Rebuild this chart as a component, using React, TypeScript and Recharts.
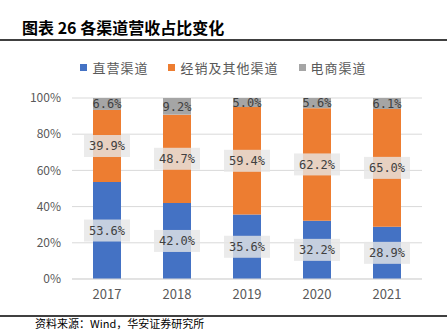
import React from 'react'
import { BarChart, Bar, XAxis, YAxis, CartesianGrid, LabelList } from 'recharts'

const years = ['2017', '2018', '2019', '2020', '2021']
const direct = [53.6, 42.0, 35.6, 32.2, 28.9]
const dealer = [39.9, 48.7, 59.4, 62.2, 65.0]
const ecommerce = [6.6, 9.2, 5.0, 5.6, 6.1]
const yTicks = [0, 0.2, 0.4, 0.6, 0.8, 1]

const SERIES = [
  { key: 'direct', name: '直营渠道', color: '#4472C4', box: true },
  { key: 'dealer', name: '经销及其他渠道', color: '#ED7D31', box: true },
  { key: 'ecommerce', name: '电商渠道', color: '#A5A5A5', box: false },
]

const data = years.map((y, i) => ({ year: y, direct: direct[i], dealer: dealer[i], ecommerce: ecommerce[i] }))

const CJK = '"Noto Sans CJK SC", "Noto Sans", sans-serif'
const AXIS = { fontSize: 12, fill: '#595959', fontFamily: CJK }

function makeLabel(box: boolean) {
  return (props: any) => {
    const { x, y, width, height, value } = props
    const cx = x + width / 2
    const cy = y + height / 2
    const txt = `${Number(value).toFixed(1)}%`
    return (
      <g>
        {box && <rect x={cx - 23} y={cy - 11} width={46} height={22} fill="#e6e6e6" fillOpacity={0.8} />}
        <text x={cx} y={cy} dy="0.35em" textAnchor="middle" fontSize={12}
          fontFamily='"DejaVu Sans Mono", monospace' fill="#404040">{txt}</text>
      </g>
    )
  }
}

export default function App() {
  return (
    <div style={{ position: 'absolute', left: 0, top: 0, width: 447, height: 332, background: '#fff', overflow: 'hidden', fontFamily: CJK }}>
      <div style={{ position: 'absolute', left: 22, top: 15, fontSize: 16, fontWeight: 700, color: '#000', whiteSpace: 'nowrap' }}>
        图表 26 各渠道营收占比变化
      </div>
      <div style={{ position: 'absolute', left: 0, top: 39, width: 447, height: 1.5, background: '#404040' }} />

      <div style={{ position: 'absolute', top: 58, left: 0, width: 447, display: 'flex', justifyContent: 'center', fontSize: 13, color: '#595959', letterSpacing: 1 }}>
        {SERIES.map((s) => (
          <div key={s.key} style={{ display: 'flex', alignItems: 'center', margin: '0 10px' }}>
            <span style={{ width: 7, height: 7, background: s.color, marginRight: 5, display: 'inline-block' }} />
            <span>{s.name}</span>
          </div>
        ))}
      </div>

      <div style={{ position: 'absolute', left: 0, top: 0 }}>
        <BarChart width={447} height={332} data={data} stackOffset="expand"
          margin={{ top: 98, right: 25, bottom: 23, left: 22 }} barSize={28}>
          <CartesianGrid vertical={false} stroke="#d9d9d9" />
          <XAxis dataKey="year" height={30} tickLine={false} axisLine={{ stroke: '#d9d9d9' }} tick={{ ...AXIS, fontSize: 13 }} tickMargin={5} />
          <YAxis width={50} ticks={yTicks} domain={[0, 1]} tickLine={false} axisLine={false}
            tick={AXIS} tickMargin={5} tickFormatter={(v: number) => `${Math.round(v * 100)}%`} />
          {SERIES.map((s) => (
            <Bar key={s.key} dataKey={s.key} name={s.name} stackId="a" fill={s.color} isAnimationActive={false}>
              <LabelList dataKey={s.key} content={makeLabel(s.box)} />
            </Bar>
          ))}
        </BarChart>
      </div>

      <div style={{ position: 'absolute', left: 0, top: 315, width: 447, height: 1.5, background: '#404040' }} />
      <div style={{ position: 'absolute', left: 35, top: 317, fontSize: 11, lineHeight: '13px', color: '#000', whiteSpace: 'nowrap' }}>
        资料来源：Wind，华安证券研究所
      </div>
    </div>
  )
}
